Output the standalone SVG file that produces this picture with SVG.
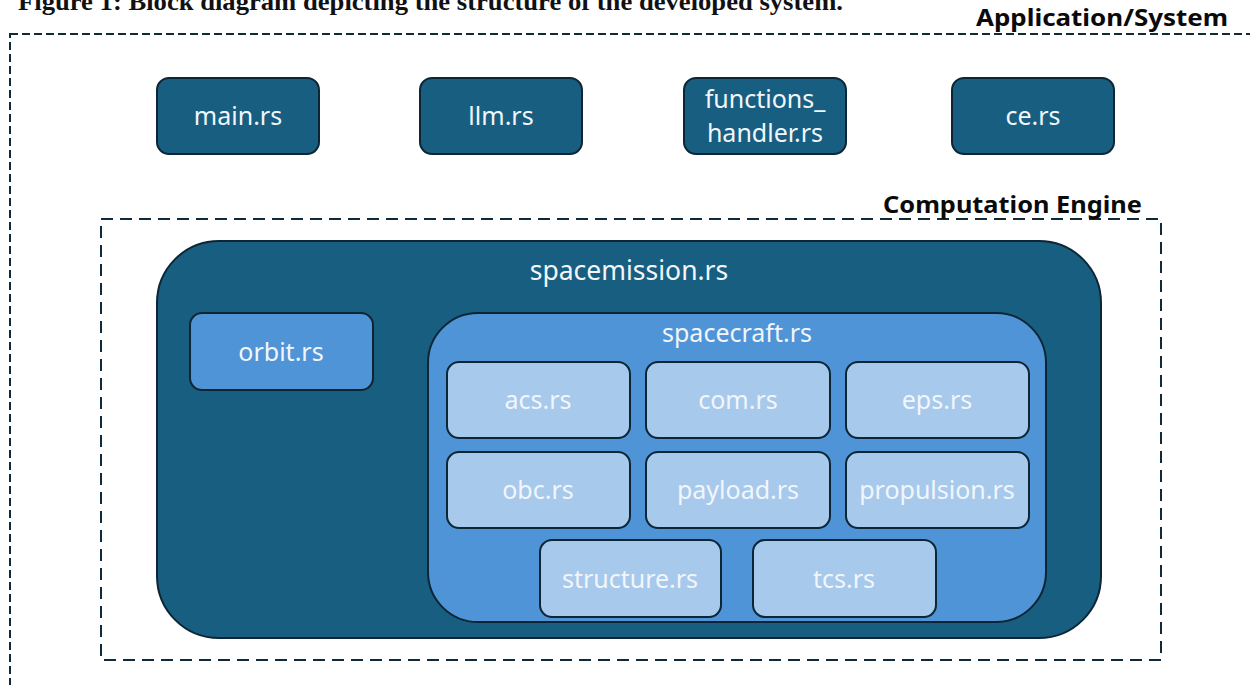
<svg xmlns="http://www.w3.org/2000/svg" width="1250" height="685" viewBox="0 0 1250 685">
<style>
.t{font-family:"Noto Sans","Liberation Sans",sans-serif;font-size:25px;fill:#f2f6fb;text-anchor:middle}
.lbl{font-family:"Noto Sans","Liberation Sans",sans-serif;font-weight:bold;font-size:24px;fill:#0a0a0a;text-anchor:end}
.dark{fill:#175e80;stroke:#0d2636;stroke-width:2}
.mid{fill:#4f94d7;stroke:#0d2636;stroke-width:2}
.pale{fill:#a7c9eb;stroke:#0d2636;stroke-width:2}
</style>
<rect width="1250" height="685" fill="#ffffff"/>
<text x="18" y="10" font-family="Liberation Serif,serif" font-weight="bold" font-size="26" fill="#111" textLength="825" lengthAdjust="spacingAndGlyphs">Figure 1: Block diagram depicting the structure of the developed system.</text>
<g id="application-system">
<rect x="10" y="34" width="1300" height="700" fill="none" stroke="#0f2a3b" stroke-width="2" stroke-dasharray="8 4"/>
<text class="lbl" x="1228" y="26" textLength="252" lengthAdjust="spacingAndGlyphs">Application/System</text>
</g>
<g id="main"><rect class="dark" x="157" y="78" width="162" height="76" rx="12"/><text class="t" x="238" y="125">main.rs</text></g>
<g id="llm"><rect class="dark" x="420" y="78" width="162" height="76" rx="12"/><text class="t" x="501" y="125">llm.rs</text></g>
<g id="functions-handler"><rect class="dark" x="684" y="78" width="162" height="76" rx="12"/><text class="t" x="765" y="108">functions_</text><text class="t" x="765" y="142">handler.rs</text></g>
<g id="ce"><rect class="dark" x="952" y="78" width="162" height="76" rx="12"/><text class="t" x="1033" y="125">ce.rs</text></g>
<g id="computation-engine">
<rect x="101" y="219" width="1060" height="441" fill="none" stroke="#0f2a3b" stroke-width="2" stroke-dasharray="12 7"/>
<text class="lbl" x="1142" y="213" textLength="259" lengthAdjust="spacingAndGlyphs">Computation Engine</text>
</g>
<g id="spacemission"><rect class="dark" x="157" y="241" width="944" height="397" rx="62"/><text class="t" x="629" y="280" style="font-size:26.5px">spacemission.rs</text></g>
<g id="orbit"><rect class="mid" x="190" y="313" width="183" height="77" rx="12"/><text class="t" x="281" y="361">orbit.rs</text></g>
<g id="spacecraft"><rect class="mid" x="428" y="313" width="618" height="309" rx="50"/><text class="t" x="737" y="342">spacecraft.rs</text></g>
<g id="acs"><rect class="pale" x="447" y="362" width="183" height="76" rx="12"/><text class="t" x="538" y="409">acs.rs</text></g>
<g id="com"><rect class="pale" x="646" y="362" width="184" height="76" rx="12"/><text class="t" x="738" y="409">com.rs</text></g>
<g id="eps"><rect class="pale" x="846" y="362" width="183" height="76" rx="12"/><text class="t" x="937" y="409">eps.rs</text></g>
<g id="obc"><rect class="pale" x="447" y="452" width="183" height="76" rx="12"/><text class="t" x="538" y="499">obc.rs</text></g>
<g id="payload"><rect class="pale" x="646" y="452" width="184" height="76" rx="12"/><text class="t" x="738" y="499">payload.rs</text></g>
<g id="propulsion"><rect class="pale" x="846" y="452" width="183" height="76" rx="12"/><text class="t" x="937" y="499">propulsion.rs</text></g>
<g id="structure"><rect class="pale" x="540" y="540" width="181" height="77" rx="12"/><text class="t" x="630" y="588">structure.rs</text></g>
<g id="tcs"><rect class="pale" x="753" y="540" width="183" height="77" rx="12"/><text class="t" x="844" y="588">tcs.rs</text></g>
<g id="connectors"></g>
</svg>
